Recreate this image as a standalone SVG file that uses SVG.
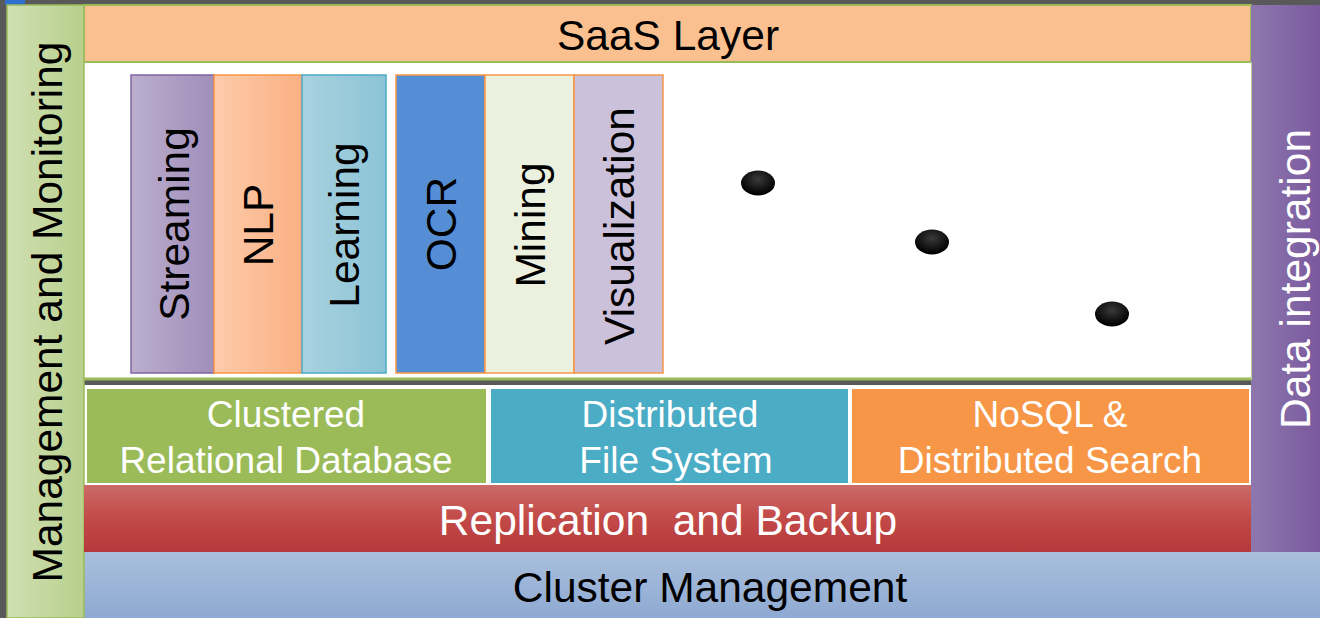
<svg xmlns="http://www.w3.org/2000/svg" width="1320" height="618" viewBox="0 0 1320 618">
<defs>
<linearGradient id="gLeft" x1="0" y1="0" x2="1" y2="0"><stop offset="0" stop-color="#d0e0b3"/><stop offset="1" stop-color="#b8cf8c"/></linearGradient>
<linearGradient id="gRight" x1="0" y1="0" x2="1" y2="0"><stop offset="0" stop-color="#8d78ae"/><stop offset="1" stop-color="#7a599e"/></linearGradient>
<linearGradient id="gRed" x1="0" y1="0" x2="0" y2="1"><stop offset="0" stop-color="#cb6b68"/><stop offset="0.5" stop-color="#c24a47"/><stop offset="1" stop-color="#b5393a"/></linearGradient>
<linearGradient id="gBlue" x1="0" y1="0" x2="0" y2="1"><stop offset="0" stop-color="#aabfdc"/><stop offset="1" stop-color="#8ea9d2"/></linearGradient>
<linearGradient id="gStream" x1="0" y1="0" x2="1" y2="0"><stop offset="0" stop-color="#bbaecd"/><stop offset="1" stop-color="#a08eba"/></linearGradient>
<linearGradient id="gNlp" x1="0" y1="0" x2="1" y2="0"><stop offset="0" stop-color="#fdcbab"/><stop offset="1" stop-color="#fbb083"/></linearGradient>
<linearGradient id="gLearn" x1="0" y1="0" x2="1" y2="0"><stop offset="0" stop-color="#a9d2df"/><stop offset="1" stop-color="#8bc3d6"/></linearGradient>
<radialGradient id="gDot" cx="0.5" cy="0.35" r="0.6"><stop offset="0" stop-color="#3a3a3a"/><stop offset="1" stop-color="#000"/></radialGradient>
</defs>
<style>
text{font-family:"Liberation Sans",Arial,sans-serif;}
.lbl{font-size:42.5px;fill:#000;}
.wlbl{font-size:42.5px;fill:#fff;}
.db{font-size:37px;fill:#fff;}
.mid{text-anchor:middle;}
.tile{stroke-width:1.5;}
</style>
<rect x="0" y="0" width="1320" height="618" fill="#595959"/>
<rect x="5" y="0" width="20" height="5" fill="#2f6fd0"/>
<g id="cluster-management">
<rect x="84" y="552" width="1236" height="66" fill="url(#gBlue)"/>
<text class="lbl mid" x="710" y="602">Cluster Management</text>
</g>
<g id="saas-area">
<rect x="84" y="62" width="1167" height="318" fill="#fff"/>
<line x1="84" y1="379" x2="1251" y2="379" stroke="#9bbb59" stroke-width="3"/>
<rect x="84" y="381" width="1167" height="4" fill="#595959"/>
<rect x="84" y="385" width="1167" height="100" fill="#fff"/>
</g>
<g id="saas-layer">
<rect x="84" y="5" width="1167" height="57" fill="#fac090" stroke="#9bbb59" stroke-width="2"/>
<text class="lbl mid" x="668" y="50">SaaS Layer</text>
</g>
<g id="management-monitoring">
<rect x="7" y="5" width="77" height="613" fill="url(#gLeft)" stroke="#9bbb59" stroke-width="1.5"/>
<text class="lbl mid" transform="translate(62,312) rotate(-90)">Management and Monitoring</text>
</g>
<g id="data-integration">
<rect x="1251" y="5" width="69" height="547" fill="url(#gRight)"/>
<line x1="1251.5" y1="62" x2="1251.5" y2="380" stroke="#b9cf8f" stroke-width="1"/>
<text class="wlbl mid" transform="translate(1310,279) rotate(-90)">Data integration</text>
</g>
<g id="streaming">
<rect class="tile" x="131" y="75" width="83" height="298" fill="url(#gStream)" stroke="#8064a2"/>
<text class="lbl mid" transform="translate(189,224) rotate(-90)">Streaming</text>
</g>
<g id="nlp">
<rect class="tile" x="214" y="75" width="88" height="298" fill="url(#gNlp)" stroke="#f79646"/>
<text class="lbl mid" transform="translate(273,225) rotate(-90)">NLP</text>
</g>
<g id="learning">
<rect class="tile" x="302" y="75" width="84" height="298" fill="url(#gLearn)" stroke="#4bacc6"/>
<text class="lbl mid" transform="translate(359,225) rotate(-90)">Learning</text>
</g>
<g id="ocr">
<rect class="tile" x="396" y="75" width="89" height="298" fill="#558ed5" stroke="#f79646"/>
<text class="lbl mid" transform="translate(456,224) rotate(-90)">OCR</text>
</g>
<g id="mining">
<rect class="tile" x="485" y="75" width="89" height="298" fill="#ebf1de" stroke="#f79646"/>
<text class="lbl mid" transform="translate(545,225) rotate(-90)">Mining</text>
</g>
<g id="visualization">
<rect class="tile" x="574" y="75" width="89" height="298" fill="#ccc1da" stroke="#f79646"/>
<text class="lbl mid" transform="translate(634,226) rotate(-90)">Visualization</text>
</g>
<g id="dots">
<ellipse cx="758" cy="183" rx="17" ry="12.5" fill="url(#gDot)"/>
<ellipse cx="932" cy="242" rx="17" ry="12.5" fill="url(#gDot)"/>
<ellipse cx="1112" cy="314" rx="17" ry="12.5" fill="url(#gDot)"/>
</g>
<g id="clustered-rdb">
<rect x="86" y="388" width="401" height="96" fill="#9bbb59" stroke="#fff" stroke-width="2"/>
<text class="db mid" x="286" y="427">Clustered</text>
<text class="db mid" x="286" y="473">Relational Database</text>
</g>
<g id="dfs">
<rect x="490" y="388" width="359" height="96" fill="#4bacc6" stroke="#fff" stroke-width="2"/>
<text class="db mid" x="670" y="427">Distributed</text>
<text class="db mid" x="676" y="473">File System</text>
</g>
<g id="nosql">
<rect x="851" y="388" width="399" height="96" fill="#f79646" stroke="#fff" stroke-width="2"/>
<text class="db mid" x="1050" y="427">NoSQL &amp;</text>
<text class="db mid" x="1050" y="473">Distributed Search</text>
</g>
<g id="replication-backup">
<rect x="84" y="485" width="1167" height="67" fill="url(#gRed)"/>
<text class="wlbl mid" x="668" y="535" xml:space="preserve">Replication  and Backup</text>
</g>
<g id="connectors"></g>
</svg>
